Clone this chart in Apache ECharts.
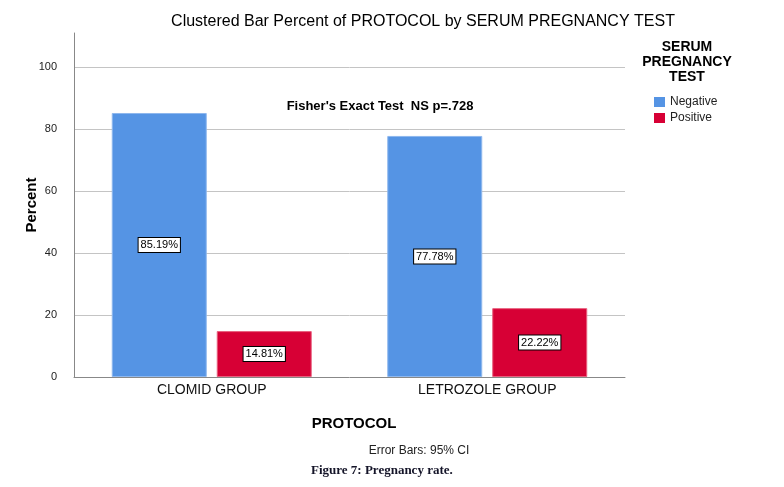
<!DOCTYPE html>
<html>
<head>
<meta charset="utf-8">
<script src="https://cdn.jsdelivr.net/npm/echarts@6/dist/echarts.min.js"></script>
<style>html,body{margin:0;padding:0;background:#fff}#c{width:784px;height:487px}</style>
</head>
<body>
<div id="c"></div>
<script>
var categories = ['CLOMID GROUP', 'LETROZOLE GROUP'];
var negativeValues = [85.19, 77.78];
var positiveValues = [14.81, 22.22];
var yTicks = [0, 20, 40, 60, 80, 100];

var chart = echarts.init(document.getElementById('c'));
var F = '"Liberation Sans", Arial, sans-serif';
var labelStyle = {
  show: true,
  position: 'inside',
  formatter: function (p) { return p.value.toFixed(2) + '%'; },
  color: '#000',
  fontFamily: F,
  fontSize: 11,
  backgroundColor: '#fff',
  borderColor: '#000',
  borderWidth: 1,
  padding: [2, 2, 1, 2]
};
chart.setOption({
  animation: false,
  title: [
    { text: 'Clustered Bar Percent of PROTOCOL by SERUM PREGNANCY TEST', left: 418, top: 9, textAlign: 'center',
      textStyle: { fontFamily: F, fontSize: 16, fontWeight: 'normal', color: '#000' } },
    { text: 'SERUM\nPREGNANCY\nTEST', left: 682, top: 35, textAlign: 'center',
      textStyle: { fontFamily: F, fontSize: 14, fontWeight: 'bold', color: '#000', lineHeight: 15 } },
    { text: "Fisher's Exact Test  NS p=.728", left: 375, top: 95, textAlign: 'center',
      textStyle: { fontFamily: F, fontSize: 13, fontWeight: 'bold', color: '#000' } },
    { text: 'PROTOCOL', left: 349, top: 411, textAlign: 'center',
      textStyle: { fontFamily: F, fontSize: 15, fontWeight: 'bold', color: '#000' } },
    { text: 'Error Bars: 95% CI', left: 414, top: 440, textAlign: 'center',
      textStyle: { fontFamily: F, fontSize: 12, fontWeight: 'normal', color: '#222' } },
    { text: 'Figure 7: Pregnancy rate.', left: 306, top: 459,
      textStyle: { fontFamily: '"Liberation Serif", serif', fontSize: 13, fontWeight: 'bold', color: '#141428' } }
  ],
  legend: {
    orient: 'vertical', left: 649, top: 91, itemWidth: 11, itemHeight: 10, itemGap: 4,
    icon: 'rect',
    itemStyle: { borderWidth: 0 },
    textStyle: { fontFamily: F, fontSize: 12, color: '#222' },
    data: ['Negative', 'Positive']
  },
  grid: { left: 74, right: 159, top: 33, bottom: 110 },
  xAxis: {
    type: 'category', data: categories,
    axisLine: { lineStyle: { color: '#888', width: 1 } },
    axisTick: { show: false },
    axisLabel: { fontFamily: F, fontSize: 14, color: '#111', margin: 6 }
  },
  yAxis: {
    type: 'value', min: 0, max: 111, interval: 20,
    name: 'Percent', nameLocation: 'middle', nameGap: 35, nameMoveOverlap: false,
    nameTextStyle: { fontFamily: F, fontSize: 15, fontWeight: 'bold', color: '#000' },
    axisLine: { show: true, lineStyle: { color: '#888', width: 1 } },
    axisTick: { show: false },
    axisLabel: { fontFamily: F, fontSize: 11, color: '#222', margin: 17, showMaxLabel: false,
      formatter: function (v) { return yTicks.indexOf(v) >= 0 ? String(v) : ''; } },
    splitLine: { show: true, showMaxLine: false, showMinLine: false, lineStyle: { color: '#c4c4c4', width: 1 } }
  },
  series: [
    { name: 'Negative', type: 'bar', data: negativeValues, barWidth: 95, barGap: '10.5%',
      itemStyle: { color: '#5594E4', borderColor: '#8fb8ee', borderWidth: 1 }, label: labelStyle },
    { name: 'Positive', type: 'bar', data: positiveValues, barWidth: 95,
      itemStyle: { color: '#D70035', borderColor: '#e8607e', borderWidth: 1 }, label: labelStyle }
  ]
});
</script>
</body>
</html>
